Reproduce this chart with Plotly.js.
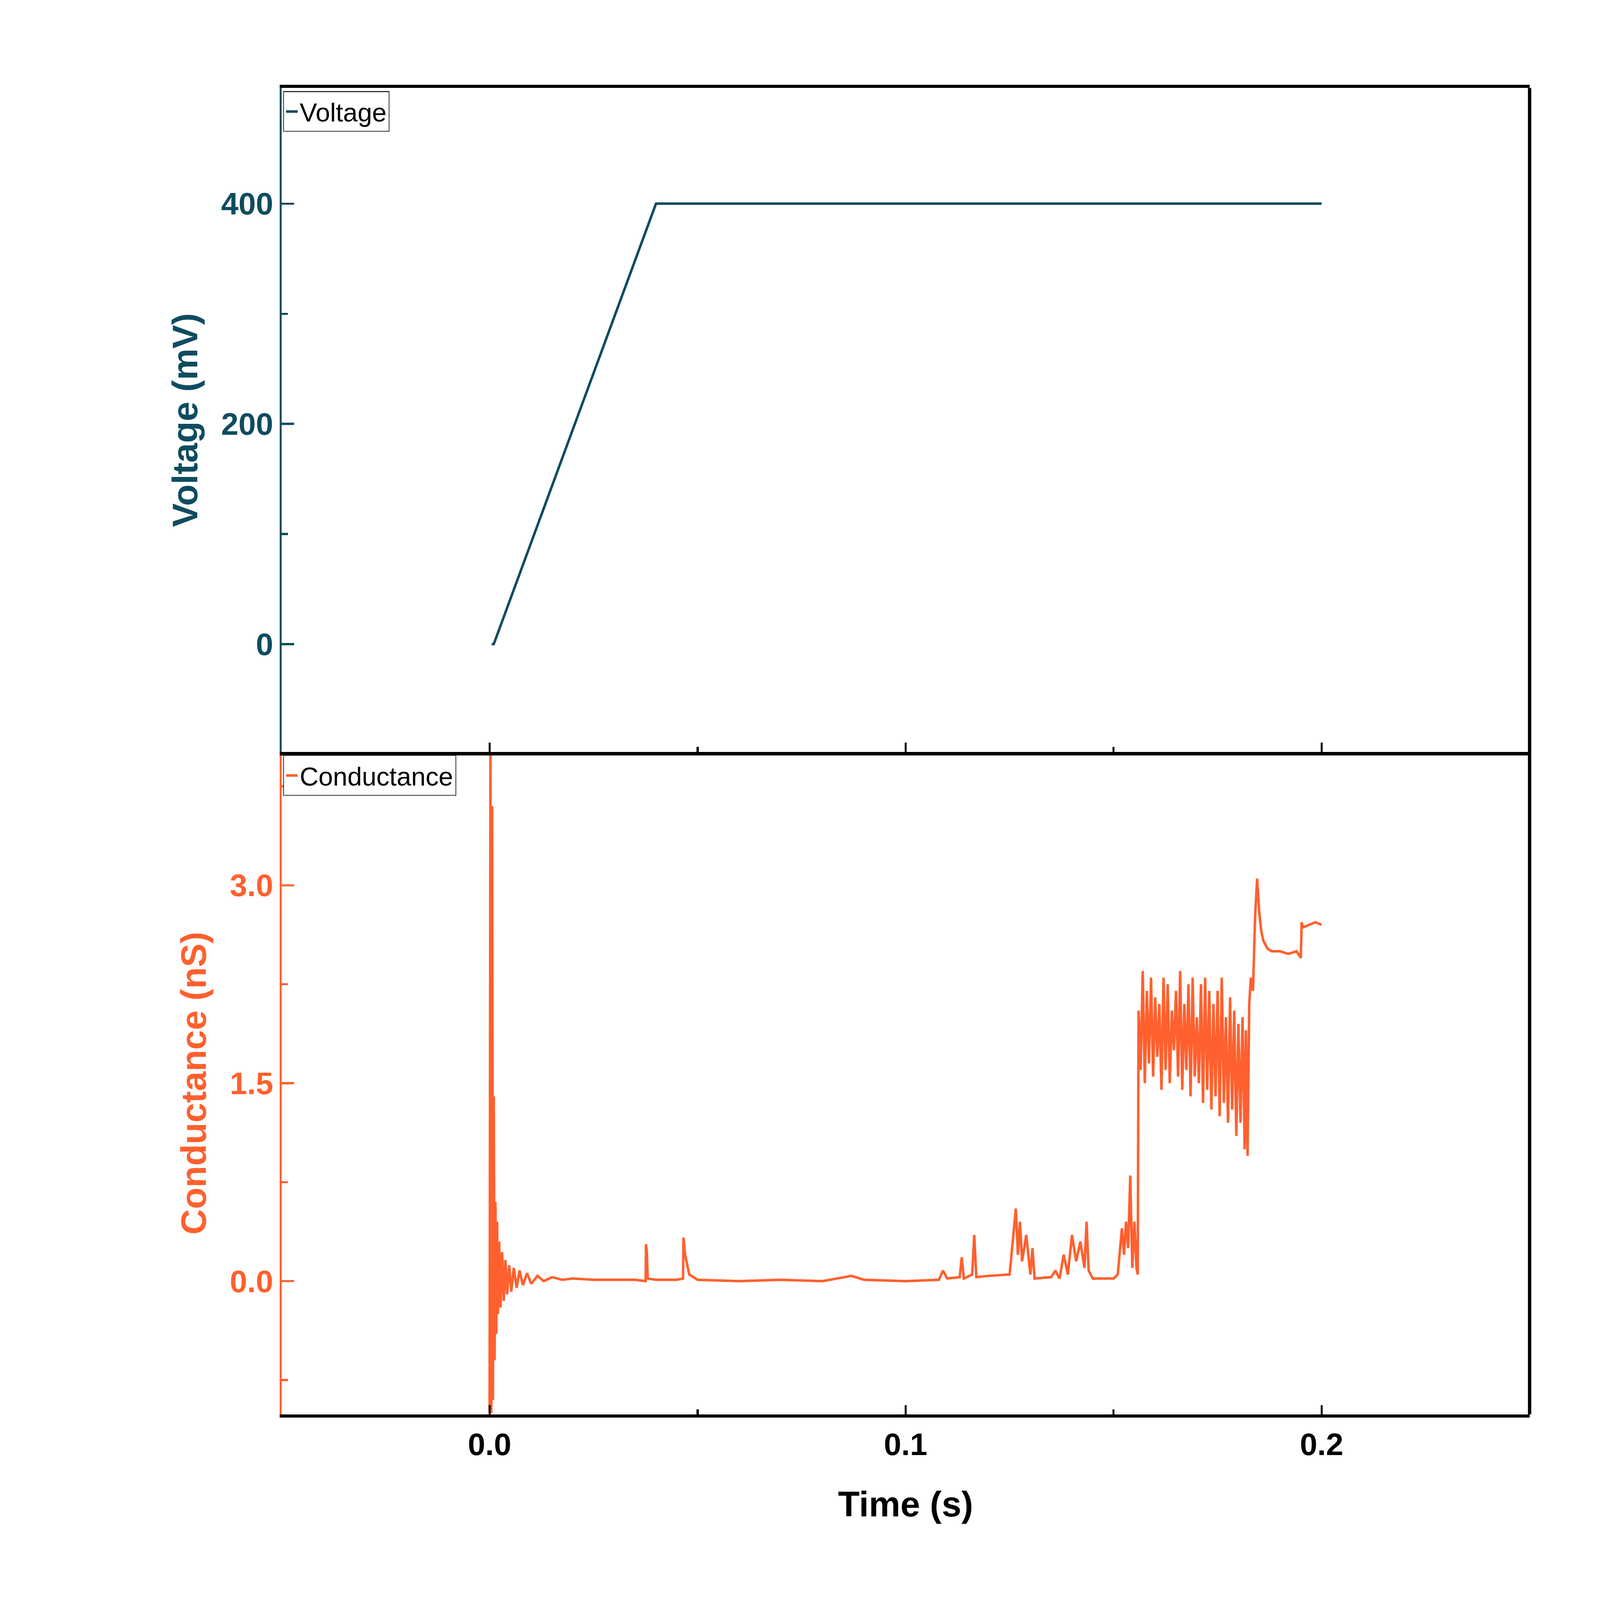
<!DOCTYPE html>
<html>
<head>
<meta charset="utf-8">
<script src="https://cdn.plot.ly/plotly-3.0.1.min.js"></script>
<style>html,body{margin:0;padding:0;background:#fff;overflow:hidden}#chart{width:100vw;height:100vh}</style>
</head>
<body>
<div id="chart"></div>
<script>
// Voltage protocol (s, mV)
const voltTime = [0.0005, 0.0010, 0.0400, 0.2000];
const voltValue = [0, 0, 400, 400];

// Conductance trace (s, nS)
const condTime = [
  0.0000, 0.0002, 0.0004, 0.0006, 0.0008, 0.0010, 0.0012, 0.0014, 0.0016, 0.0018,
  0.0020, 0.0023, 0.0026, 0.0030, 0.0034, 0.0038, 0.0042, 0.0047, 0.0052, 0.0058,
  0.0065, 0.0072, 0.0080, 0.0090, 0.0100, 0.0115, 0.0130, 0.0150, 0.0175, 0.0200,
  0.0250, 0.0300, 0.0350, 0.0375, 0.0376, 0.0378, 0.0380, 0.0400, 0.0450, 0.0465,
  0.0466, 0.0470, 0.0480, 0.0500, 0.0600, 0.0700, 0.0800, 0.0870, 0.0900, 0.1000,
  0.1080, 0.1090, 0.1100, 0.1130, 0.1135, 0.1140, 0.1160, 0.1165, 0.1170, 0.1200,
  0.1250, 0.1265, 0.1270, 0.1275, 0.1280, 0.1290, 0.1300, 0.1305, 0.1310, 0.1350,
  0.1360, 0.1370, 0.1380, 0.1390, 0.1400, 0.1410, 0.1420, 0.1430, 0.1435, 0.1440,
  0.1450, 0.1500, 0.1510, 0.1520, 0.1525, 0.1530, 0.1535, 0.1540, 0.1545, 0.1550,
  0.1555, 0.1558, 0.1560, 0.1565, 0.1570, 0.1575, 0.1580, 0.1585, 0.1590, 0.1595,
  0.1600, 0.1605, 0.1610, 0.1615, 0.1620, 0.1625, 0.1630, 0.1635, 0.1640, 0.1645,
  0.1650, 0.1655, 0.1660, 0.1665, 0.1670, 0.1675, 0.1680, 0.1685, 0.1690, 0.1695,
  0.1700, 0.1705, 0.1710, 0.1715, 0.1720, 0.1725, 0.1730, 0.1735, 0.1740, 0.1745,
  0.1750, 0.1755, 0.1760, 0.1765, 0.1770, 0.1775, 0.1780, 0.1785, 0.1790, 0.1795,
  0.1800, 0.1805, 0.1810, 0.1815, 0.1818, 0.1822, 0.1826, 0.1830, 0.1835, 0.1840,
  0.1845, 0.1850, 0.1855, 0.1860, 0.1870, 0.1880, 0.1900, 0.1920, 0.1940, 0.1950,
  0.1952, 0.1955, 0.1970, 0.1985, 0.2000
];
const condValue = [
  -1.00, 4.00, -1.00, 3.60, -0.90, 1.40, -0.60, 0.60, -0.40, 0.45,
  -0.25, 0.30, -0.20, 0.22, -0.15, 0.16, -0.10, 0.12, -0.08, 0.10,
  -0.05, 0.08, -0.03, 0.06, -0.02, 0.04, 0.00, 0.03, 0.01, 0.02,
  0.01, 0.01, 0.01, 0.00, 0.28, 0.22, 0.02, 0.01, 0.01, 0.02,
  0.33, 0.20, 0.05, 0.01, 0.00, 0.01, 0.00, 0.04, 0.01, 0.00,
  0.01, 0.08, 0.02, 0.03, 0.18, 0.02, 0.05, 0.35, 0.03, 0.04,
  0.05, 0.55, 0.20, 0.45, 0.15, 0.35, 0.05, 0.25, 0.02, 0.03,
  0.08, 0.02, 0.20, 0.05, 0.35, 0.15, 0.30, 0.10, 0.45, 0.08,
  0.02, 0.02, 0.05, 0.40, 0.20, 0.45, 0.25, 0.80, 0.10, 0.45,
  0.10, 0.05, 2.05, 1.60, 2.35, 1.50, 2.20, 1.65, 2.30, 1.55,
  2.15, 1.70, 2.10, 1.45, 2.30, 1.60, 2.25, 1.50, 2.05, 1.75,
  2.20, 1.55, 2.35, 1.45, 2.10, 1.60, 2.25, 1.40, 2.30, 1.55,
  2.00, 1.50, 2.25, 1.35, 2.30, 1.45, 2.20, 1.30, 2.10, 1.40,
  2.20, 1.25, 2.30, 1.35, 2.00, 1.20, 2.15, 1.30, 2.05, 1.10,
  1.95, 1.20, 2.00, 1.00, 1.90, 0.95, 2.10, 2.30, 2.20, 2.75,
  3.05, 2.80, 2.65, 2.58, 2.52, 2.50, 2.50, 2.48, 2.50, 2.45,
  2.72, 2.68, 2.70, 2.72, 2.70
];

const tealColor = '#0f4c60';
const orangeColor = '#ff602e';
const font = 'Arial, "Liberation Sans", sans-serif';

// scale everything to the actual window (designed for 7680 wide)
const W = window.innerWidth, H = window.innerHeight;
const s = Math.min(W / 7680, H / 4320);

const data = [
  {
    x: voltTime, y: voltValue, name: 'Voltage', type: 'scatter', mode: 'lines',
    line: { color: tealColor, width: 12 * s }, xaxis: 'x2', yaxis: 'y2', legend: 'legend'
  },
  {
    x: condTime, y: condValue, name: 'Conductance', type: 'scatter', mode: 'lines',
    line: { color: orangeColor, width: 12 * s }, xaxis: 'x', yaxis: 'y', legend: 'legend2'
  }
];

const xLeft = 0.176, xRight = 0.956;

const layout = {
  width: W, height: H,
  margin: { l: 0, r: 0, t: 0, b: 0 },
  paper_bgcolor: '#fff', plot_bgcolor: '#fff',
  font: { family: font, color: '#000' },
  showlegend: true,
  xaxis: {
    domain: [xLeft, xRight], anchor: 'y', range: [-0.05, 0.25],
    tickvals: [0, 0.1, 0.2], ticktext: ['0.0', '0.1', '0.2'],
    ticks: 'inside', ticklen: 45 * s, tickwidth: 10 * s, tickcolor: '#000',
    minor: { tickvals: [0.05, 0.15], ticks: 'inside', ticklen: 25 * s, tickwidth: 10 * s, tickcolor: '#000' },
    showline: true, linecolor: '#000', linewidth: 16 * s,
    showgrid: false, zeroline: false,
    tickfont: { size: 150 * s, family: font, weight: 'bold' },
    title: { text: 'Time (s)', font: { size: 170 * s, family: font, weight: 'bold' }, standoff: 150 * s }
  },
  yaxis: {
    domain: [0.116, 0.530], anchor: 'x', range: [-1.01, 4.01],
    tickvals: [0, 1.5, 3], ticktext: ['0.0', '1.5', '3.0'],
    ticks: 'inside', ticklen: 60 * s, tickwidth: 10 * s, tickcolor: orangeColor,
    minor: { tickvals: [-0.75, 0.75, 2.25, 3.75], ticks: 'inside', ticklen: 30 * s, tickwidth: 10 * s, tickcolor: orangeColor },
    showline: true, linecolor: orangeColor, linewidth: 10 * s,
    showgrid: false, zeroline: false,
    tickfont: { size: 150 * s, family: font, weight: 'bold', color: orangeColor },
    title: { text: 'Conductance (nS)', font: { size: 170 * s, family: font, weight: 'bold', color: orangeColor }, standoff: 60 * s }
  },
  xaxis2: {
    domain: [xLeft, xRight], anchor: 'y2', range: [-0.05, 0.25], matches: 'x',
    tickvals: [0, 0.1, 0.2], showticklabels: false,
    ticks: 'inside', ticklen: 45 * s, tickwidth: 10 * s, tickcolor: '#000',
    minor: { tickvals: [0.05, 0.15], ticks: 'inside', ticklen: 25 * s, tickwidth: 10 * s, tickcolor: '#000' },
    showline: true, linecolor: '#000', linewidth: 16 * s, mirror: true,
    showgrid: false, zeroline: false
  },
  yaxis2: {
    domain: [0.530, 0.945], anchor: 'x2', range: [-98, 505],
    tickvals: [0, 200, 400],
    ticks: 'inside', ticklen: 60 * s, tickwidth: 10 * s, tickcolor: tealColor,
    minor: { tickvals: [100, 300], ticks: 'inside', ticklen: 30 * s, tickwidth: 10 * s, tickcolor: tealColor },
    showline: true, linecolor: tealColor, linewidth: 10 * s,
    showgrid: false, zeroline: false,
    tickfont: { size: 150 * s, family: font, weight: 'bold', color: tealColor },
    title: { text: 'Voltage (mV)', font: { size: 170 * s, family: font, weight: 'bold', color: tealColor }, standoff: 60 * s }
  },
  legend: {
    x: xLeft + 0.001, y: 0.943, xanchor: 'left', yanchor: 'top',
    bgcolor: '#fff', bordercolor: '#333', borderwidth: 4 * s,
    font: { size: 125 * s, family: font }
  },
  legend2: {
    x: xLeft + 0.001, y: 0.528, xanchor: 'left', yanchor: 'top',
    bgcolor: '#fff', bordercolor: '#333', borderwidth: 4 * s,
    font: { size: 125 * s, family: font }
  },
  shapes: [
    { type: 'line', xref: 'paper', yref: 'paper', x0: xRight, x1: xRight, y0: 0.116, y1: 0.945,
      line: { color: '#000', width: 16 * s } }
  ]
};

Plotly.newPlot('chart', data, layout, { staticPlot: true });
</script>
</body>
</html>
